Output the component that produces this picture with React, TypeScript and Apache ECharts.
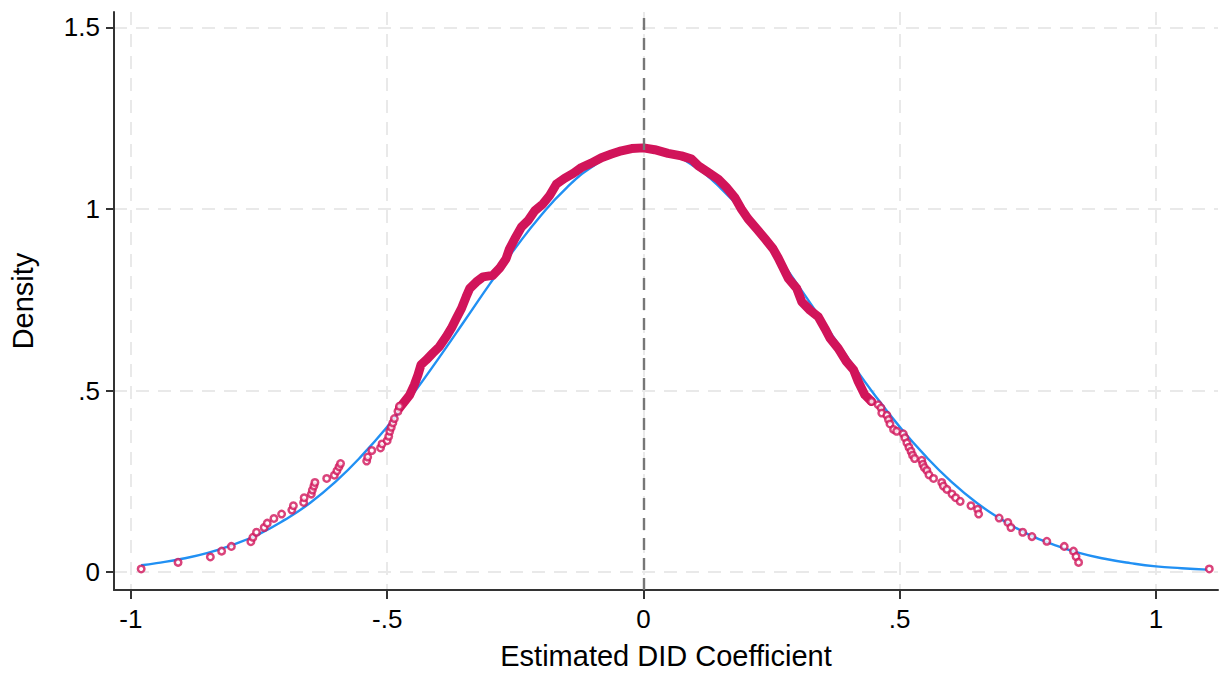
import React, { useEffect, useRef } from "react";
import * as echarts from "echarts";

// Axis ticks
const xTickValues = [-1, -0.5, 0, 0.5, 1];
const xTickLabels = ["-1", "-.5", "0", ".5", "1"];
const yTickValues = [0, 0.5, 1, 1.5];
const yTickLabels = ["0", ".5", "1", "1.5"];

// Normal density reference curve
const normalX = [-0.98, -0.95, -0.9, -0.85, -0.8, -0.75, -0.7, -0.65, -0.6, -0.55, -0.5, -0.45, -0.4, -0.35, -0.3, -0.25, -0.2, -0.15, -0.1, -0.05, 0, 0.05, 0.1, 0.15, 0.2, 0.25, 0.3, 0.35, 0.4, 0.45, 0.5, 0.55, 0.6, 0.65, 0.7, 0.75, 0.8, 0.85, 0.9, 0.95, 1.0, 1.05, 1.1];
const normalY = [0.019, 0.025, 0.037, 0.053, 0.076, 0.105, 0.144, 0.191, 0.25, 0.32, 0.4, 0.49, 0.588, 0.69, 0.793, 0.892, 0.982, 1.058, 1.116, 1.153, 1.165, 1.153, 1.116, 1.058, 0.982, 0.892, 0.793, 0.69, 0.588, 0.49, 0.4, 0.32, 0.25, 0.191, 0.144, 0.105, 0.076, 0.053, 0.037, 0.025, 0.016, 0.011, 0.007];

// Kernel density estimates – sparse left tail
const leftTailX = [-0.98, -0.908, -0.845, -0.823, -0.804, -0.766, -0.762, -0.755, -0.74, -0.734, -0.721, -0.706, -0.686, -0.683, -0.663, -0.662, -0.648, -0.646, -0.643, -0.641, -0.618, -0.603, -0.598, -0.594, -0.591, -0.54, -0.538, -0.53, -0.513, -0.51, -0.5, -0.497, -0.495, -0.492, -0.489, -0.486, -0.479, -0.476];
const leftTailY = [0.009, 0.027, 0.042, 0.058, 0.071, 0.084, 0.096, 0.11, 0.123, 0.135, 0.148, 0.16, 0.171, 0.183, 0.192, 0.205, 0.215, 0.226, 0.237, 0.247, 0.258, 0.267, 0.279, 0.29, 0.299, 0.306, 0.317, 0.335, 0.342, 0.353, 0.362, 0.374, 0.388, 0.399, 0.411, 0.423, 0.443, 0.457];

// Kernel density estimates – dense centre
const centreX = [-0.476, -0.466, -0.456, -0.447, -0.44, -0.434, -0.424, -0.411, -0.398, -0.385, -0.375, -0.365, -0.355, -0.346, -0.339, -0.326, -0.313, -0.294, -0.281, -0.268, -0.262, -0.251, -0.238, -0.225, -0.212, -0.196, -0.183, -0.17, -0.154, -0.137, -0.121, -0.102, -0.082, -0.0625, -0.043, -0.023, 0, 0.022, 0.048, 0.074, 0.094, 0.107, 0.126, 0.146, 0.162, 0.178, 0.191, 0.204, 0.221, 0.237, 0.253, 0.263, 0.27, 0.283, 0.299, 0.309, 0.325, 0.341, 0.354, 0.364, 0.38, 0.396, 0.41, 0.419, 0.432, 0.445];
const centreY = [0.452, 0.47, 0.488, 0.516, 0.543, 0.571, 0.584, 0.603, 0.621, 0.648, 0.671, 0.699, 0.726, 0.758, 0.781, 0.799, 0.813, 0.817, 0.836, 0.863, 0.888, 0.918, 0.95, 0.968, 0.995, 1.014, 1.037, 1.068, 1.084, 1.098, 1.114, 1.126, 1.141, 1.151, 1.16, 1.166, 1.168, 1.163, 1.153, 1.146, 1.137, 1.119, 1.101, 1.082, 1.059, 1.032, 1.0, 0.973, 0.945, 0.918, 0.89, 0.865, 0.845, 0.808, 0.781, 0.744, 0.721, 0.703, 0.671, 0.644, 0.616, 0.58, 0.557, 0.525, 0.488, 0.47];

// Kernel density estimates – sparse right tail
const rightTailX = [0.445, 0.458, 0.4635, 0.465, 0.475, 0.478, 0.481, 0.488, 0.494, 0.507, 0.51, 0.514, 0.518, 0.522, 0.525, 0.529, 0.543, 0.545, 0.548, 0.553, 0.557, 0.566, 0.582, 0.585, 0.592, 0.602, 0.609, 0.618, 0.639, 0.652, 0.654, 0.694, 0.711, 0.717, 0.74, 0.758, 0.787, 0.821, 0.839, 0.844, 0.849, 1.104];
const rightTailY = [0.47, 0.461, 0.452, 0.438, 0.432, 0.42, 0.408, 0.393, 0.388, 0.381, 0.37, 0.356, 0.344, 0.333, 0.322, 0.313, 0.308, 0.297, 0.288, 0.28, 0.268, 0.258, 0.247, 0.237, 0.228, 0.215, 0.205, 0.195, 0.183, 0.173, 0.16, 0.149, 0.137, 0.123, 0.11, 0.098, 0.085, 0.071, 0.058, 0.043, 0.027, 0.009];

const PINK = "#d1145a";
const BLUE = "#2190f3";
const FONT = "'Liberation Sans', Arial, sans-serif";

const zip = (xs: number[], ys: number[]) => xs.map((x, i) => [x, ys[i]]);

export default function App() {
  const ref = useRef<HTMLDivElement>(null);
  useEffect(() => {
    if (!ref.current) return;
    const chart = echarts.init(ref.current, undefined, { renderer: "svg" });
    const gridLine = { show: true, lineStyle: { color: "#e9e9e9", width: 2, type: [13, 9] as any } };
    chart.setOption({
      animation: false,
      backgroundColor: "#fff",
      grid: { left: 113, right: 2, top: 12, bottom: 82, containLabel: false },
      xAxis: {
        type: "value",
        min: -1.033,
        max: 1.121,
        name: "Estimated DID Coefficient",
        nameLocation: "middle",
        nameGap: 51,
        nameTextStyle: { fontFamily: FONT, fontSize: 29, color: "#000" },
        axisLine: { show: true, onZero: false, lineStyle: { color: "#333", width: 2 } },
        axisTick: { show: true, length: 9, customValues: xTickValues, lineStyle: { color: "#333", width: 2 } },
        axisLabel: {
          customValues: xTickValues,
          margin: 16,
          fontFamily: FONT,
          fontSize: 26,
          color: "#000",
          formatter: (v: number) => {
            const i = xTickValues.findIndex((t) => Math.abs(t - v) < 1e-9);
            return i >= 0 ? xTickLabels[i] : "";
          },
        },
        splitLine: gridLine,
      },
      yAxis: {
        type: "value",
        min: -0.049,
        max: 1.542,
        name: "Density",
        nameLocation: "middle",
        nameGap: 77,
        nameTextStyle: { fontFamily: FONT, fontSize: 29, color: "#000" },
        axisLine: { show: true, onZero: false, lineStyle: { color: "#333", width: 2 } },
        axisTick: { show: true, length: 8, customValues: yTickValues, lineStyle: { color: "#333", width: 2 } },
        axisLabel: {
          customValues: yTickValues,
          margin: 14,
          fontFamily: FONT,
          fontSize: 26,
          color: "#000",
          formatter: (v: number) => {
            const i = yTickValues.findIndex((t) => Math.abs(t - v) < 1e-9);
            return i >= 0 ? yTickLabels[i] : "";
          },
        },
        splitLine: gridLine,
      },
      series: [
        {
          type: "line",
          data: zip(normalX, normalY),
          smooth: true,
          symbol: "none",
          lineStyle: { color: BLUE, width: 2.4 },
          z: 2,
          markLine: {
            silent: true,
            symbol: ["none", "none"],
            label: { show: false },
            lineStyle: { color: "#777777", width: 2.4, type: [12, 8] },
            data: [{ xAxis: 0 }],
          },
        },
        {
          type: "line",
          data: zip(centreX, centreY),
          symbol: "none",
          lineStyle: { color: PINK, width: 9, cap: "round", join: "round" },
          z: 4,
        },
        {
          type: "scatter",
          data: zip(leftTailX, leftTailY).concat(zip(rightTailX, rightTailY)),
          symbol: "circle",
          symbolSize: 6.5,
          itemStyle: { color: "#fff", borderColor: PINK, borderWidth: 2.5 },
          z: 5,
        },
      ],
    });
    return () => chart.dispose();
  }, []);
  return <div ref={ref} style={{ position: "fixed", left: 0, top: 0, width: 1220, height: 675 }} />;
}
